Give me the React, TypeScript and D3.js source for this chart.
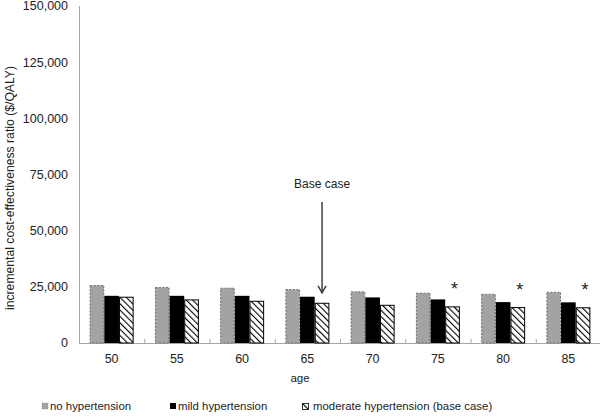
import React from "react";
import * as d3 from "d3";

const ages = ["50", "55", "60", "65", "70", "75", "80", "85"];
const noHypertension = [25800, 24900, 24600, 24000, 23000, 22400, 21900, 22800];
const mildHypertension = [21000, 21000, 21000, 20600, 20300, 19400, 18200, 18100];
const moderateHypertension = [20600, 19400, 18800, 17900, 17000, 16300, 16000, 15900];
const yTicks = [0, 25000, 50000, 75000, 100000, 125000, 150000];
const seriesNames = ["no hypertension", "mild hypertension", "moderate hypertension (base case)"];
const starredAges = ["75", "80", "85"];
const baseCaseAge = "65";

const W = 600;
const H = 417;
const left = 79;
const right = 601;
const top = 6;
const bottom = 343;
const font = "Liberation Sans, Arial, sans-serif";

export default function App() {
  const x = d3.scaleBand<string>().domain(ages).range([left, right]).paddingInner(0).paddingOuter(0);
  const inner = d3.scaleBand<string>().domain(["0", "1", "2"]).range([0, 44]);
  const groupOffset = (x.bandwidth() - 44) / 2;
  const y = d3.scaleLinear().domain([0, 150000]).range([bottom, top]);
  const series = [noHypertension, mildHypertension, moderateHypertension];
  const fmt = d3.format(",");
  const bw = inner.bandwidth();

  const bars: React.ReactNode[] = [];
  ages.forEach((a, i) => {
    series.forEach((s, k) => {
      const bx = (x(a) as number) + groupOffset + (inner(String(k)) as number);
      const by = y(s[i]);
      const h = bottom - by;
      if (k === 0) {
        bars.push(
          <rect key={`b${i}-${k}`} x={bx + 0.5} y={by + 0.5} width={bw - 1} height={h - 0.5}
            fill="#a3a3a3" stroke="#6e6e6e" strokeWidth={1} strokeDasharray="2,1.5" />
        );
      } else if (k === 1) {
        bars.push(<rect key={`b${i}-${k}`} x={bx} y={by} width={bw} height={h} fill="#000" />);
      } else {
        bars.push(
          <rect key={`b${i}-${k}`} x={bx + 0.5} y={by + 0.5} width={bw - 1} height={h - 0.5}
            fill="url(#hatch)" stroke="#000" strokeWidth={1} />
        );
      }
    });
  });

  const stars = starredAges.map((a) => {
    const i = ages.indexOf(a);
    const bx = (x(a) as number) + groupOffset + (inner("2") as number) + bw / 2 + 2;
    return (
      <text key={`s${a}`} x={bx} y={y(moderateHypertension[i]) - 11} fontFamily={font} fontSize={18}
        textAnchor="middle" fill="#222">*</text>
    );
  });

  const bi = ages.indexOf(baseCaseAge);
  const arrowX = (x(baseCaseAge) as number) + groupOffset + (inner("2") as number) + bw / 2;
  const arrowTip = y(moderateHypertension[bi]) - 10;

  return (
    <svg width={W} height={H} style={{ position: "absolute", left: 0, top: 0, background: "#fff" }}>
      <defs>
        <pattern id="hatch" patternUnits="userSpaceOnUse" width={4.5} height={4.5} patternTransform="rotate(-45)">
          <rect width={4.5} height={4.5} fill="#fff" />
          <line x1={0} y1={0} x2={0} y2={4.5} stroke="#000" strokeWidth={2.2} />
        </pattern>
      </defs>
      {/* axes */}
      <line x1={left + 0.5} y1={top} x2={left + 0.5} y2={bottom} stroke="#a6a6a6" strokeWidth={1} />
      <line x1={left} y1={bottom + 0.5} x2={W} y2={bottom + 0.5} stroke="#a6a6a6" strokeWidth={1} />
      {ages.map((a) => (
        <line key={`t${a}`} x1={(x(a) as number) + 0.5} x2={(x(a) as number) + 0.5} y1={bottom - 4} y2={bottom}
          stroke="#a6a6a6" strokeWidth={1} />
      ))}
      {yTicks.map((t) => (
        <text key={`y${t}`} x={68} y={y(t)} dy="0.35em" textAnchor="end" fontFamily={font} fontSize={12.5} fill="#222">
          {fmt(t)}
        </text>
      ))}
      {ages.map((a) => (
        <text key={`x${a}`} x={(x(a) as number) + x.bandwidth() / 2} y={363} textAnchor="middle" fontFamily={font}
          fontSize={12.5} fill="#222">{a}</text>
      ))}
      <text x={300} y={382} textAnchor="middle" fontFamily={font} fontSize={11.5} fill="#222">age</text>
      <text transform={`translate(14,188) rotate(-90)`} textAnchor="middle" fontFamily={font}
        fontSize={12.2} fill="#222">incremental cost-effectiveness ratio ($/QALY)</text>
      {bars}
      {stars}
      {/* base case annotation */}
      <text x={arrowX} y={188} textAnchor="middle" fontFamily={font} fontSize={12} fill="#222">Base case</text>
      <line x1={arrowX} y1={202} x2={arrowX} y2={arrowTip} stroke="#333" strokeWidth={1.4} />
      <path d={`M${arrowX - 4},${arrowTip - 7} L${arrowX},${arrowTip} L${arrowX + 4},${arrowTip - 7}`} fill="none"
        stroke="#333" strokeWidth={1.4} />
      {/* legend */}
      <g fontFamily={font} fontSize={11.4} fill="#222">
        <rect x={42} y={403} width={6} height={6} fill="#a3a3a3" stroke="#888" strokeWidth={0.6} strokeDasharray="1,1" />
        <text x={50} y={409.5}>{seriesNames[0]}</text>
        <rect x={170} y={403} width={6} height={6} fill="#000" />
        <text x={178} y={409.5}>{seriesNames[1]}</text>
        <rect x={302.5} y={403.5} width={6} height={6} fill="url(#hatch)" stroke="#000" strokeWidth={0.8} />
        <text x={313} y={409.5}>{seriesNames[2]}</text>
      </g>
    </svg>
  );
}
